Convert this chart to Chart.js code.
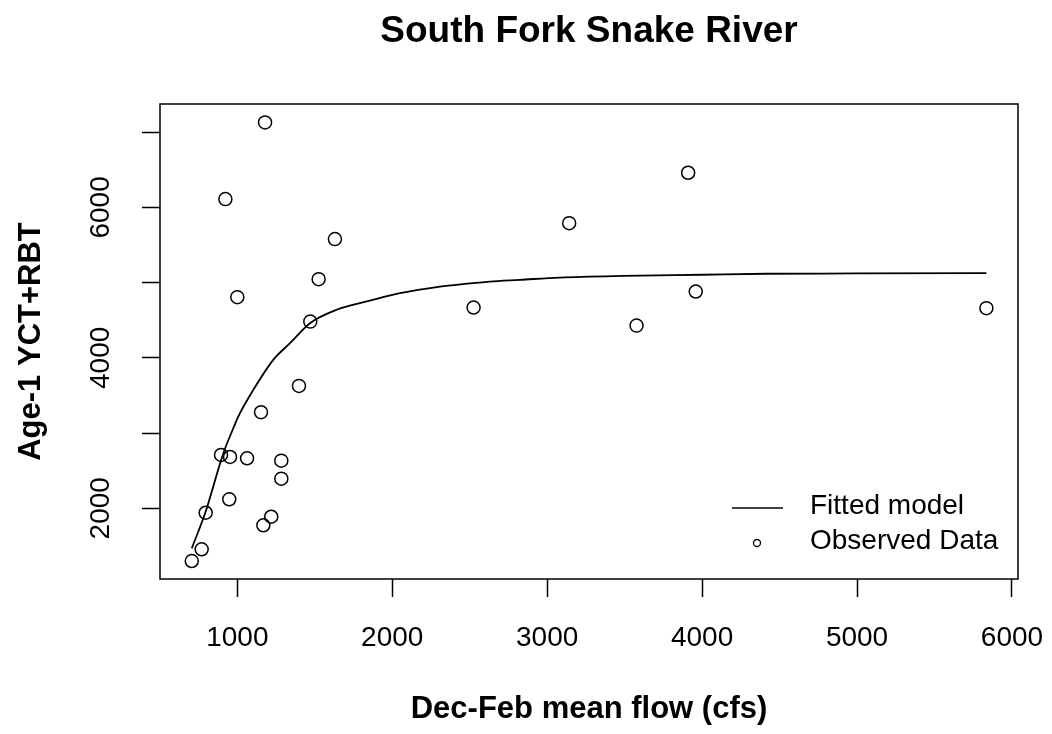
<!DOCTYPE html>
<html>
<head>
<meta charset="utf-8">
<script src="https://cdn.jsdelivr.net/npm/chart.js@4"></script>
<style>
  body { margin: 0; background: #fff; }
  canvas { display: block; }
</style>
</head>
<body>
<canvas id="chart1" width="1052" height="734"></canvas>
<script>
const flowObs = [1179, 923, 1630, 1525, 1000, 1471, 1398, 1153, 895, 953, 1063, 1284, 1284,
  948, 796, 1219, 1168, 770, 706, 2525, 3142, 3577, 3910, 3959, 5835];
const countObs = [7130, 6111, 5579, 5046, 4807, 4482, 3627, 3277, 2709, 2682, 2665, 2633, 2394,
  2120, 1941, 1888, 1774, 1455, 1299, 4669, 5791, 4429, 6461, 4882, 4661];

// fitted model curve
const fitFlow = [706, 792, 910, 974, 1006, 1103, 1232, 1340, 1469, 1641, 1856, 2050, 2308,
  2469, 2630, 2824, 3082, 3490, 4000, 4416, 5000, 5835];
const fitCount = [1468, 1933, 2732, 3064, 3220, 3574, 3974, 4195, 4461, 4640, 4760, 4860, 4948,
  4984, 5014, 5037, 5068, 5090, 5105, 5118, 5122, 5127];

const xTicks = [1000, 2000, 3000, 4000, 5000, 6000];
const yTicks = [2000, 3000, 4000, 5000, 6000, 7000];
const yTickLabels = [2000, 4000, 6000];
const legendLabels = ['Fitted model', 'Observed Data'];

const titleText = 'South Fork Snake River';
const xTitle = 'Dec-Feb mean flow (cfs)';
const yTitle = 'Age-1 YCT+RBT';

const FONT = "'Liberation Sans', Arial, sans-serif";

// R style frame, title and legend
const rDecor = {
  id: 'rDecor',
  afterDraw(chart) {
    const ctx = chart.ctx;
    const a = chart.chartArea;
    ctx.save();
    ctx.strokeStyle = '#000';
    ctx.lineWidth = 1.5;
    ctx.strokeRect(a.left, a.top, a.right - a.left, a.bottom - a.top);

    ctx.fillStyle = '#000';
    ctx.font = 'bold 37px ' + FONT;
    ctx.textAlign = 'center';
    ctx.textBaseline = 'middle';
    ctx.fillText(titleText, (a.left + a.right) / 2, 32);

    // legend, no box
    ctx.font = '28px ' + FONT;
    ctx.textAlign = 'left';
    ctx.fillText(legendLabels[0], 810, 506);
    ctx.fillText(legendLabels[1], 810, 541);
    ctx.lineWidth = 1.6;
    ctx.beginPath();
    ctx.moveTo(732, 508);
    ctx.lineTo(783, 508);
    ctx.stroke();
    ctx.lineWidth = 1.3;
    ctx.beginPath();
    ctx.arc(757, 543, 3.5, 0, Math.PI * 2);
    ctx.stroke();
    ctx.restore();
  }
};

function noPad(scale) {
  scale.paddingLeft = 0;
  scale.paddingRight = 0;
  scale.paddingTop = 0;
  scale.paddingBottom = 0;
}

const ctx = document.getElementById('chart1');

new Chart(ctx, {
  type: 'scatter',
  data: {
    datasets: [
      {
        label: legendLabels[1],
        data: flowObs.map((x, i) => ({ x, y: countObs[i] })),
        pointStyle: 'circle',
        pointRadius: 6.5,
        pointBorderWidth: 1.5,
        borderColor: '#000',
        backgroundColor: 'rgba(0,0,0,0)',
      },
      {
        label: legendLabels[0],
        type: 'line',
        data: fitFlow.map((x, i) => ({ x, y: fitCount[i] })),
        borderColor: '#000',
        borderWidth: 1.8,
        pointRadius: 0,
        cubicInterpolationMode: 'monotone',
        fill: false,
      },
    ],
  },
  options: {
    responsive: false,
    animation: false,
    layout: {
      padding: { top: 104, left: 0, right: 34, bottom: 0 },
    },
    scales: {
      x: {
        type: 'linear',
        min: 501,
        max: 6039,
        afterBuildTicks: (scale) => {
          scale.ticks = xTicks.map(v => ({ value: v }));
        },
        afterFit: (scale) => {
          scale.height = 155;
          noPad(scale);
        },
        border: { display: false },
        grid: {
          drawOnChartArea: false,
          drawTicks: true,
          tickLength: 18,
          tickWidth: 1.5,
          tickColor: '#000',
        },
        ticks: {
          includeBounds: false,
          padding: 24,
          color: '#000',
          maxRotation: 0,
          font: { size: 28, family: FONT },
          callback: (v) => String(v),
        },
        title: {
          display: true,
          text: xTitle,
          color: '#000',
          padding: { top: 0, bottom: 6 },
          font: { size: 31, weight: 'bold', family: FONT },
        },
      },
      y: {
        type: 'linear',
        min: 1060,
        max: 7375,
        afterBuildTicks: (scale) => {
          scale.ticks = yTicks.map(v => ({ value: v }));
        },
        afterFit: (scale) => {
          scale.width = 160;
          noPad(scale);
        },
        border: { display: false },
        grid: {
          drawOnChartArea: false,
          drawTicks: true,
          tickLength: 18,
          tickWidth: 1.5,
          tickColor: '#000',
        },
        ticks: {
          includeBounds: false,
          padding: 10,
          minRotation: 90,
          maxRotation: 90,
          crossAlign: 'center',
          color: '#000',
          font: { size: 28, family: FONT },
          callback: (v) => (yTickLabels.includes(v) ? String(v) : ''),
        },
        title: {
          display: true,
          text: yTitle,
          color: '#000',
          padding: { top: 13, bottom: 0 },
          font: { size: 31, weight: 'bold', family: FONT },
        },
      },
    },
    plugins: {
      legend: { display: false },
      tooltip: { enabled: false },
      title: { display: false },
    },
  },
  plugins: [rDecor],
});
</script>
</body>
</html>
